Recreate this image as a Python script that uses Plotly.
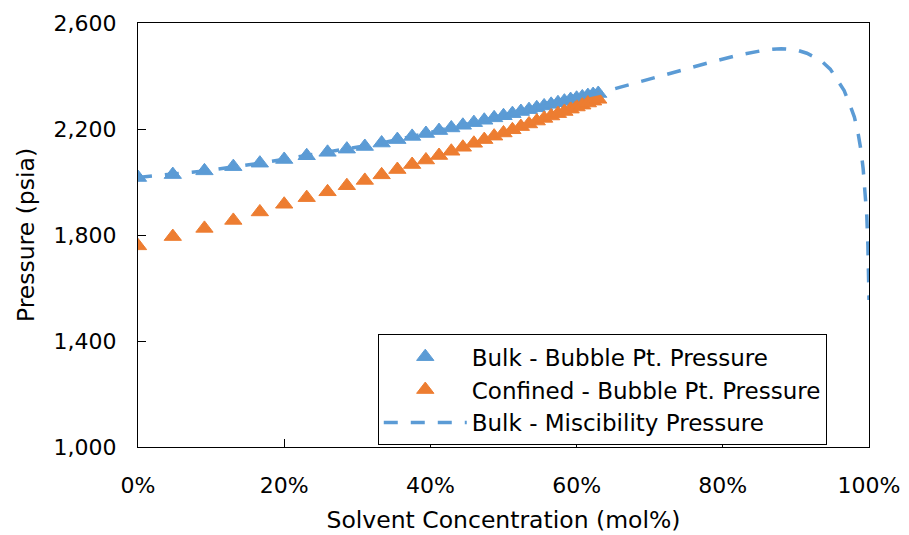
import plotly.graph_objects as go

# Solvent concentration (mol%) for the bubble-point runs
conc = [0.00, 4.76, 9.09, 13.04, 16.67, 20.00, 23.08, 25.93, 28.57, 31.03,
        33.33, 35.48, 37.50, 39.39, 41.18, 42.86, 44.44, 45.95, 47.37, 48.72,
        50.00, 51.22, 52.38, 53.49, 54.55, 55.56, 56.52, 57.45, 58.33, 59.18,
        60.00, 60.78, 61.54, 62.26, 62.96]

# Bubble-point pressure (psia), bulk fluid
bulk_bp = [2017, 2028, 2042, 2058, 2071, 2085, 2099, 2112, 2124, 2134,
           2147, 2160, 2172, 2183, 2194, 2204, 2214, 2224, 2233, 2242,
           2250, 2258, 2266, 2273, 2280, 2287, 2293, 2299, 2305, 2311,
           2316, 2321, 2326, 2330, 2334]

# Bubble-point pressure (psia), confined fluid
conf_bp = [1759, 1794, 1825, 1855, 1887, 1916, 1941, 1963, 1986, 2006,
           2027, 2047, 2066, 2083, 2100, 2116, 2131, 2146, 2160, 2173,
           2185, 2197, 2209, 2219, 2230, 2240, 2249, 2258, 2266, 2275,
           2283, 2290, 2298, 2305, 2312]

# Miscibility pressure curve, bulk fluid
mmp_conc = [0.00, 9.09, 16.67, 23.08, 28.57, 33.33, 37.50, 42.86, 47.37, 52.38,
            56.52, 60.00, 62.96, 66.0, 69.0, 72.0, 75.5, 79.0, 82.5, 86.0,
            88.0, 90.0, 91.5, 93.4, 94.7, 95.8, 96.6, 97.4, 98.0, 98.5,
            98.9, 99.2, 99.5, 99.7, 99.85, 99.95, 100.0]
mmp_p = [2017, 2042, 2071, 2099, 2124, 2147, 2172, 2204, 2233, 2266,
         2293, 2316, 2334, 2358, 2381, 2404, 2430, 2457, 2481, 2499,
         2503, 2499, 2486, 2459, 2426, 2379, 2345, 2290, 2245, 2185,
         2120, 2050, 1960, 1870, 1760, 1650, 1555]

x_ticks = [0, 20, 40, 60, 80, 100]
x_tick_text = ["0%", "20%", "40%", "60%", "80%", "100%"]
y_ticks = [1000, 1400, 1800, 2200, 2600]

BLUE = "#5B9BD5"
ORANGE = "#ED7D31"
FONT = "DejaVu Sans"

fig = go.Figure()
fig.add_trace(go.Scatter(
    x=conc, y=bulk_bp, mode="markers", name="Bulk - Bubble Pt. Pressure",
    marker=dict(symbol="triangle-up", size=15, color=BLUE,
                line=dict(color=BLUE, width=1)),
))
fig.add_trace(go.Scatter(
    x=conc, y=conf_bp, mode="markers", name="Confined - Bubble Pt. Pressure",
    marker=dict(symbol="triangle-up", size=15, color=ORANGE,
                line=dict(color=ORANGE, width=1)),
))
fig.add_trace(go.Scatter(
    x=mmp_conc, y=mmp_p, mode="lines", name="Bulk - Miscibility Pressure",
    line=dict(color=BLUE, width=3.5, dash="14px,13px"),
))

fig.update_layout(
    width=909, height=535,
    margin=dict(l=138, r=40, t=23, b=88),
    paper_bgcolor="white", plot_bgcolor="white",
    font=dict(family=FONT, size=22, color="black"),
    showlegend=True,
    legend=dict(
        x=0.328, y=0.266, xanchor="left", yanchor="top",
        bgcolor="white", bordercolor="black", borderwidth=1,
        font=dict(family=FONT, size=23, color="black"),
        itemwidth=83, tracegroupgap=0,
    ),
)
fig.update_xaxes(
    range=[0, 100], tickvals=x_ticks, ticktext=x_tick_text,
    showgrid=False, zeroline=False, automargin=False,
    showline=True, linecolor="black", linewidth=1, mirror=True,
    ticks="inside", ticklen=8, tickcolor="black",
    ticklabelstandoff=19,
    title=dict(text="Solvent Concentration (mol%)", standoff=14,
               font=dict(family=FONT, size=23.5)),
)
fig.update_yaxes(
    range=[1000, 2600], tickvals=y_ticks, tickformat=",",
    showgrid=False, zeroline=False, automargin=False,
    showline=True, linecolor="black", linewidth=1, mirror=True,
    ticks="inside", ticklen=8, tickcolor="black",
    ticklabelstandoff=16,
    title=dict(text="Pressure (psia)", standoff=12,
               font=dict(family=FONT, size=23.5)),
)

fig.write_html("out.html")
